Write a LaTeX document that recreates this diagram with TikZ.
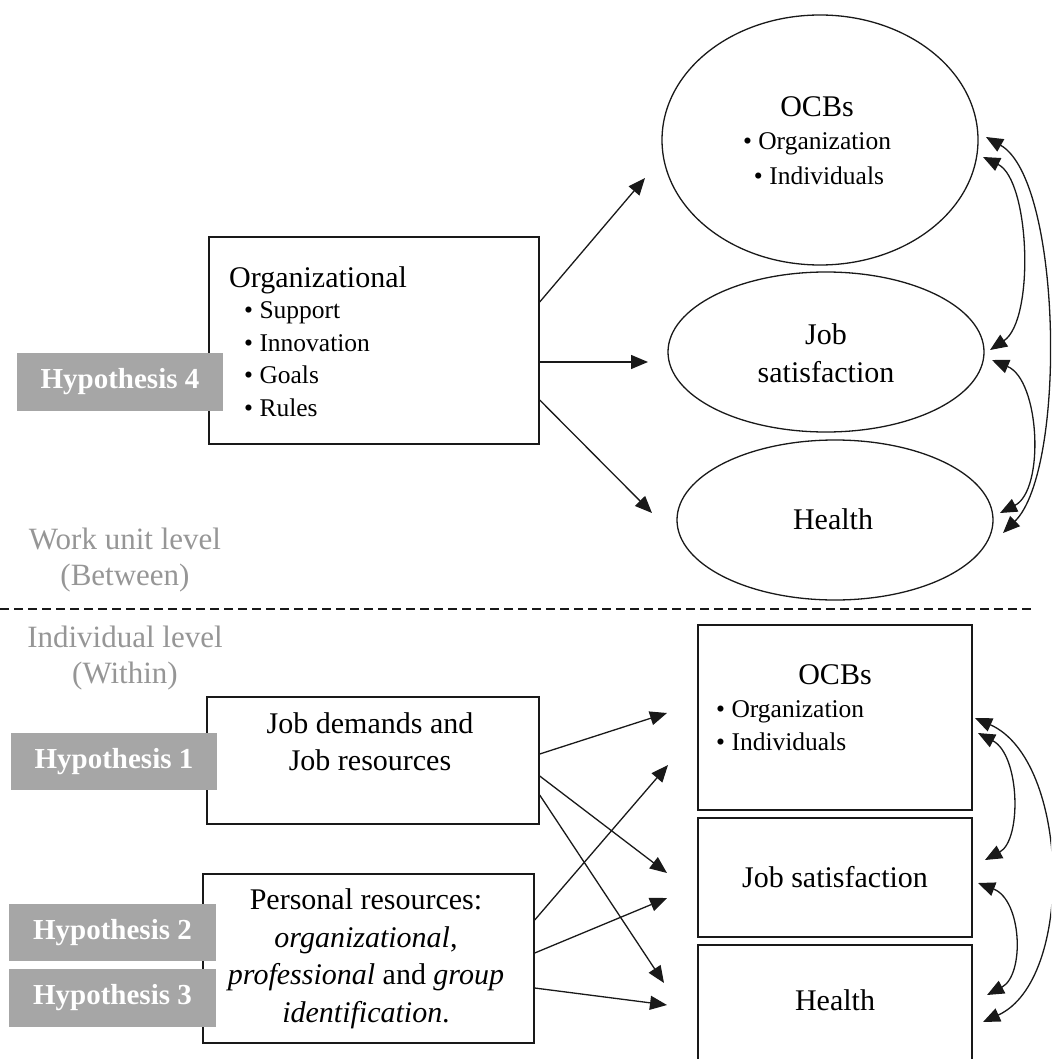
\documentclass[tikz,border=0pt]{standalone}
\usepackage{fontspec}
\setmainfont{Liberation Serif}
\usetikzlibrary{arrows.meta,shapes.geometric}
\definecolor{hypgray}{RGB}{166,166,166}
\definecolor{lvlgray}{RGB}{150,150,150}
\definecolor{ink}{RGB}{25,25,25}
\begin{document}
\begin{tikzpicture}[x=1pt,y=-1pt,
 box/.style={draw=ink, line width=1.4pt, fill=white, inner sep=0pt},
 oval/.style={ellipse, draw=ink, line width=1.3pt, inner sep=0pt},
 hyp/.style={fill=hypgray, text=white, font=\fontsize{29}{34}\selectfont\bfseries, inner sep=0pt},
 big/.style={font=\fontsize{30}{37.5}\selectfont, inner sep=0pt, align=center},
 small/.style={font=\fontsize{25.5}{32}\selectfont, inner sep=0pt},
 lvl/.style={font=\fontsize{31}{36}\selectfont, text=lvlgray, align=center, inner sep=0pt},
 arr/.style={-{Triangle[length=17pt,width=14pt]}, line width=1.3pt, draw=ink},
 dbl/.style={{Triangle[length=17pt,width=14pt]}-{Triangle[length=17pt,width=14pt]}, line width=1.3pt, draw=ink},
 sep/.style={draw=ink, line width=1.2pt, dash pattern=on 9pt off 5pt},
]
\useasboundingbox (0,0) rectangle (1051,1059);
\clip (0,0) rectangle (1051,1059);

% ---------- top (work unit level) ----------
\node[oval, minimum width=316pt, minimum height=250pt] (ocbT) at (820,140) {};
\node[big, anchor=base] (ocbTt) at (817,117) {OCBs};
\node[small, anchor=base] (ocbTa) at (817,150) {\textbullet\ Organization};
\node[small, anchor=base] (ocbTb) at (819,185) {\textbullet\ Individuals};

\node[oval, minimum width=316pt, minimum height=160pt] (jsT) at (826,352) {};
\node[big] (jsTt) at (826,353) {Job\\satisfaction};

\node[oval, minimum width=316pt, minimum height=160pt] (hT) at (835,520) {};
\node[big] (hTt) at (833,519) {Health};

\node[box, minimum width=330pt, minimum height=207pt] (org) at (374,340.5) {};
\node[big, anchor=west] (orgt) at (229,280) {Organizational};
\node[small, anchor=west] (o1) at (244,313) {\textbullet\ Support};
\node[small, anchor=west] (o2) at (244,343) {\textbullet\ Innovation};
\node[small, anchor=west] (o3) at (244,375) {\textbullet\ Goals};
\node[small, anchor=west] (o4) at (244,408) {\textbullet\ Rules};

\node[hyp, minimum width=206pt, minimum height=58pt] (h4) at (120,382) {Hypothesis 4};

\coordinate (t1) at (645,178);
\coordinate (t2) at (648,362);
\coordinate (t3) at (652,513);
\draw[arr] ([yshift=38.5pt]org.east) -- (t1);
\draw[arr] ([yshift=-21.5pt]org.east) -- (t2);
\draw[arr] ([yshift=-59.5pt]org.east) -- (t3);

\coordinate (ua1) at (986,137);
\coordinate (ua2) at (1003,533);
\coordinate (ub1) at (983,157);
\coordinate (ub2) at (990,350);
\coordinate (uc1) at (992,360);
\coordinate (uc2) at (1000,513);
\draw[dbl] (ua1) .. controls (1062,180) and (1067,470) .. (ua2);
\draw[dbl] (ub1) .. controls (1030,180) and (1035,320) .. (ub2);
\draw[dbl] (uc1) .. controls (1040,380) and (1045,490) .. (uc2);

% ---------- levels ----------
\node[lvl] (wul) at (125,560) {Work unit level\\(Between)};
\coordinate (dl) at (0,609);
\coordinate (dr) at (1033,609);
\draw[sep] (dl) -- (dr);
\node[lvl] (ill) at (125,658) {Individual level\\(Within)};

% ---------- bottom (individual level) ----------
\node[box, minimum width=274pt, minimum height=185pt] (ocbB) at (835,717.5) {};
\node[big] (ocbBt) at (835,675) {OCBs};
\node[small, anchor=west] (ocbBa) at (716,712) {\textbullet\ Organization};
\node[small, anchor=west] (ocbBb) at (716,742) {\textbullet\ Individuals};

\node[box, minimum width=274pt, minimum height=119pt] (jsB) at (835,877.5) {};
\node[big] (jsBt) at (835,877) {Job satisfaction};

\node[box, minimum width=274pt, minimum height=130pt] (hB) at (835,1010) {};
\node[big] (hBt) at (835,1000) {Health};

\node[box, minimum width=332pt, minimum height=127pt] (jd) at (373,760.5) {};
\node[big] (jdt) at (370,741.5) {Job demands and\\Job resources};

\node[box, minimum width=331pt, minimum height=169pt] (pr) at (368.5,958.5) {};
\node[big] (prt) at (366,959) {Personal resources:\\\textit{organizational},\\\textit{professional} and \textit{group}\\\textit{identification}.};

\node[hyp, minimum width=206pt, minimum height=57pt] (h1) at (114,761.5) {Hypothesis 1};
\node[hyp, minimum width=207pt, minimum height=57pt] (h2) at (112.5,932.5) {Hypothesis 2};
\node[hyp, minimum width=207pt, minimum height=58pt] (h3) at (112.5,998) {Hypothesis 3};

\coordinate (b1) at (667,713);
\coordinate (b2) at (668,765);
\coordinate (b3) at (667,873);
\coordinate (b4) at (667,898);
\coordinate (b5) at (664,983);
\coordinate (b6) at (667,1005);
\draw[arr] ([yshift=6.5pt]jd.east) -- (b1);
\draw[arr] ([yshift=-15.5pt]jd.east) -- (b3);
\draw[arr] ([yshift=-34.5pt]jd.east) -- (b5);
\draw[arr] ([yshift=38.5pt]pr.east) -- (b2);
\draw[arr] ([yshift=5.5pt]pr.east) -- (b4);
\draw[arr] ([yshift=-29.5pt]pr.east) -- (b6);

\coordinate (la1) at (975,718);
\coordinate (la2) at (983,1022);
\coordinate (lb1) at (978,733);
\coordinate (lb2) at (985,860);
\coordinate (lc1) at (978,883);
\coordinate (lc2) at (987,995);
\draw[dbl] (la1) .. controls (1070,760) and (1075,980) .. (la2);
\draw[dbl] (lb1) .. controls (1020,755) and (1022,840) .. (lb2);
\draw[dbl] (lc1) .. controls (1022,900) and (1025,975) .. (lc2);
\end{tikzpicture}
\end{document}
